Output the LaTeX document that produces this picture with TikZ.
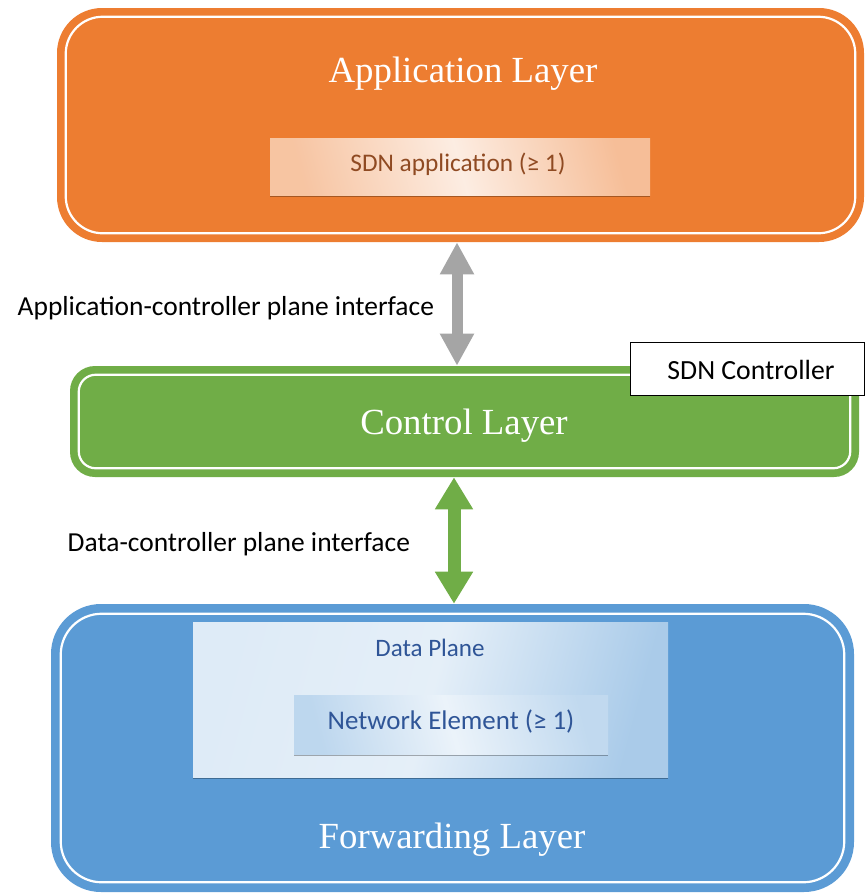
\documentclass[tikz,border=0pt]{standalone}
\usepackage{fontspec}
\setmainfont{Liberation Serif}
\newfontfamily\calibrifont{Carlito}
\usetikzlibrary{arrows.meta,shadows,calc}

\definecolor{layerorange}{HTML}{ED7D31}
\definecolor{layergreen}{HTML}{70AD47}
\definecolor{layerblue}{HTML}{5B9BD5}
\definecolor{arrowgray}{HTML}{A5A5A5}
\definecolor{apptext}{HTML}{8F4A22}
\definecolor{planetext}{HTML}{2F5597}

\begin{document}
\begin{tikzpicture}[x=0.75pt,y=-0.75pt,
  layer/.style={rounded corners=#1, inner sep=0pt},
  rim/.style={draw=white, line width=2.2*0.75pt},
  title/.style={text=white, font=\fontsize{27.6}{30}\selectfont},
  label/.style={font=\calibrifont\fontsize{#1}{22}\selectfont, text=black},
  label/.default=20.6,
  inbox/.style={inner sep=0pt,
    drop shadow={shadow xshift=0pt, shadow yshift=-1.3pt, opacity=0.3, fill=black}},
  dlink/.style={line width=#1}
]
\useasboundingbox (0,0) rectangle (865,894);

% --- application layer ---
\node[layer=45*0.75pt, fill=layerorange, minimum width=807*0.75pt, minimum height=234*0.75pt] (app) at (460.5,125) {};
\draw[rim, rounded corners=37*0.75pt] ($(app.north west)+(9,9)$) rectangle ($(app.south east)+(-9,-9)$);
\node[title] (apptitle) at (463,74) {Application Layer};
\node[inbox, minimum width=380*0.75pt, minimum height=57*0.75pt,
  left color=layerorange!45!white, right color=layerorange!50!white, middle color=layerorange!14!white, shading angle=105]
  (sdnapp) at (460,166.5) {};
\node[label=19, text=apptext] (sdnapptext) at (458,164) {SDN application (≥ 1)};

% --- control layer ---
\node[layer=25*0.75pt, fill=layergreen, minimum width=789*0.75pt, minimum height=111*0.75pt] (ctl) at (464.5,421.5) {};
\draw[rim, rounded corners=17*0.75pt] ($(ctl.north west)+(9,9)$) rectangle ($(ctl.south east)+(-9,-9)$);
\node[title] (ctltitle) at (464,426) {Control Layer};
\node[draw=black, line width=0.9*0.75pt, fill=white, minimum width=234*0.75pt, minimum height=53*0.75pt, inner sep=0pt]
  (sdnctl) at (747,368.5) {};
\node[label=20.8] (sdnctltext) at (751,370) {SDN Controller};

% --- forwarding layer ---
\node[layer=50*0.75pt, fill=layerblue, minimum width=803*0.75pt, minimum height=288*0.75pt] (fwd) at (452.5,748) {};
\draw[rim, rounded corners=41*0.75pt] ($(fwd.north west)+(10,10)$) rectangle ($(fwd.south east)+(-10,-10)$);
\node[title] (fwdtitle) at (452,840) {Forwarding Layer};
\node[inbox, minimum width=475*0.75pt, minimum height=155*0.75pt,
  left color=layerblue!20!white, right color=layerblue!52!white, middle color=layerblue!16!white, shading angle=75]
  (dplane) at (430.5,699.5) {};
\node[label=18.8, text=planetext] (dplanetext) at (430,648) {Data Plane};
\node[inbox, minimum width=314*0.75pt, minimum height=59*0.75pt,
  left color=layerblue!40!white, right color=layerblue!38!white, middle color=layerblue!12!white, shading angle=105]
  (netel) at (451,724.5) {};
\node[label=20.2, text=planetext] (neteltext) at (451,722) {Network Element (≥ 1)};

% --- interfaces ---
\coordinate (upx) at (457,0);
\coordinate (lowx) at (454,0);
\draw[dlink=11*0.75pt, arrowgray, {Triangle[width=24pt,length=24pt]}-{Triangle[width=24pt,length=24pt]}]
  (app.south -| upx) -- (ctl.north -| upx);
\draw[dlink=13*0.75pt, layergreen, {Triangle[width=27pt,length=24pt]}-{Triangle[width=27pt,length=24pt]}]
  (ctl.south -| lowx) -- (fwd.north -| lowx);
\node[label, anchor=west] (apiface) at (13,308) {Application-controller plane interface};
\node[label, anchor=west] (dpiface) at (63,544) {Data-controller plane interface};
\end{tikzpicture}
\end{document}
